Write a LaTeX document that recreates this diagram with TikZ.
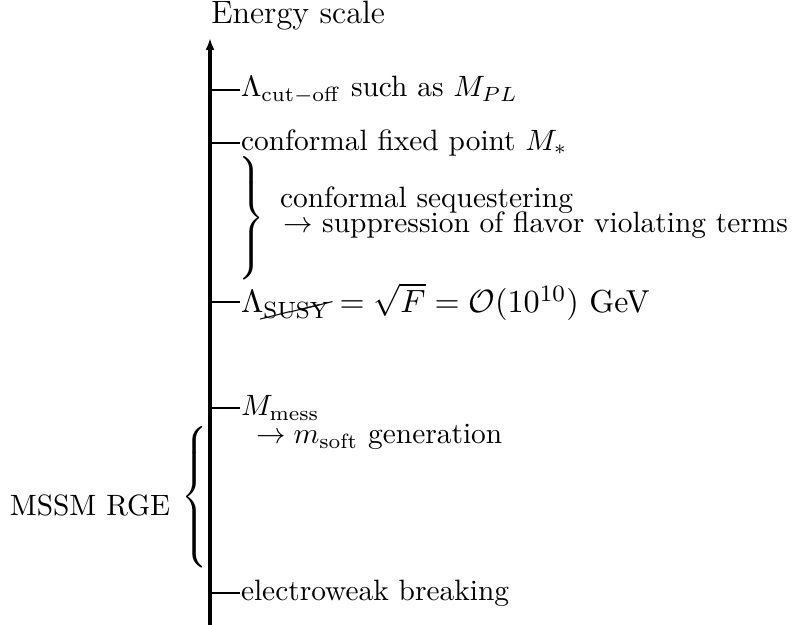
\documentclass[tikz,border=0pt]{standalone}
\usepackage{cancel}
\usetikzlibrary{arrows.meta}
\begin{document}
\begin{tikzpicture}[x=0.34pt,y=-0.34pt,
  axisline/.style={line width=1.05pt,-{Latex[length=4pt,width=3pt]}},
  tickline/.style={line width=0.7pt},
  lbl/.style={anchor=west,inner sep=0pt,outer sep=0pt},
  plain/.style={inner sep=0pt,outer sep=0pt}]
\useasboundingbox (0,0) rectangle (799,625);
\coordinate (bot) at (210,625);
\coordinate (top) at (210,38);
\draw[axisline] (bot) -- (top);
\node[plain,font=\fontsize{11}{13}\selectfont] (title) at (298,16) {Energy scale};
% ticks
\foreach \n/\y in {t1/90,t2/143,t3/302,t4/408,t5/593}{
  \coordinate (\n a) at (210,\y);
  \coordinate (\n b) at (240,\y);
  \draw[tickline] (\n a) -- (\n b);
}
\node[lbl] (l1) at (241,90) {$\Lambda_{\rm cut-off}$ such as $M_{PL}$};
\node[lbl] (l2) at (241,143) {conformal fixed point $M_*$};
\node[plain] (br1) at (250,218) {$\left.\vcenter{\hbox{\rule{0pt}{41pt}}}\right\}$};
\node[lbl] (l2a) at (280,200) {conformal sequestering};
\node[lbl] (l2b) at (283,225) {$\rightarrow$ suppression of flavor violating terms};
\node[lbl,font=\fontsize{10.8}{13}\selectfont] (l3) at (241,302) {$\Lambda_{\cancel{\rm SUSY}}=\sqrt{F}=\mathcal{O}(10^{10})$ GeV};
\node[lbl] (l4) at (241,408) {$M_{\rm mess}$};
\node[lbl] (l4a) at (256,437) {$\rightarrow m_{\rm soft}$ generation};
\node[plain] (br2) at (196,497) {$\left\{\vcenter{\hbox{\rule{0pt}{51pt}}}\right.$};
\node[plain] (mssm) at (90,505) {MSSM RGE};
\node[lbl] (l5) at (241,593) {electroweak breaking};
\end{tikzpicture}
\end{document}
